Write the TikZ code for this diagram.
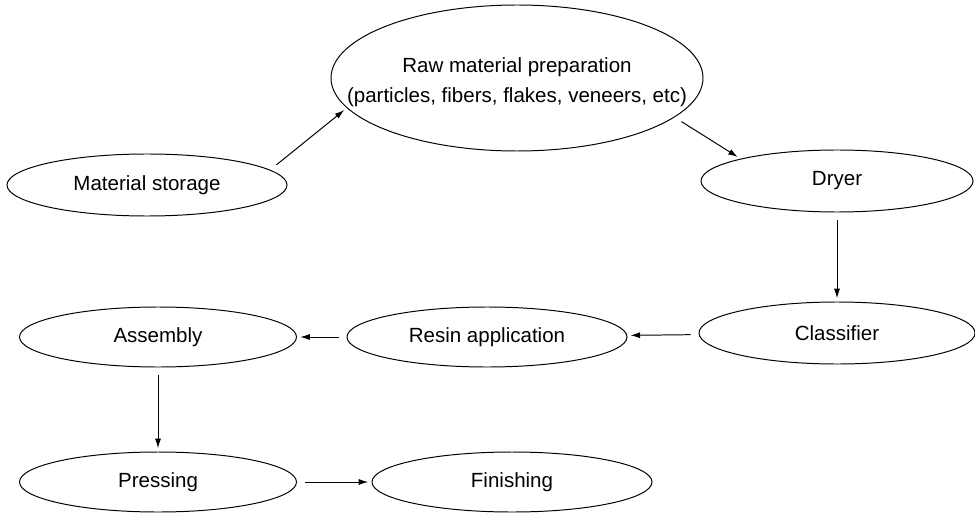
\documentclass[tikz,border=0pt]{standalone}
\usepackage{fontspec}
\setmainfont{Liberation Sans}
\usetikzlibrary{arrows.meta, positioning, shapes.geometric}

\begin{document}
\begin{tikzpicture}[
    proc/.style={draw, ellipse, line width=0.7pt, inner sep=0pt, minimum width=7cm, minimum height=1.55cm, font=\fontsize{14.6}{21.3}\selectfont},
    flow/.style={-{Latex[length=0.24cm, width=0.15cm]}, line width=0.7pt, shorten <=0.2cm, shorten >=0.08cm}]

    \useasboundingbox[fill=white] (0,0) rectangle (24.375,-12.825);

    % Top row
    \node[proc] (storage) at (3.675,-4.625) {Material storage};
    \node[proc, minimum width=9.3cm, minimum height=3.65cm] (prep) at (12.925,-1.95) {};
    \node[align=center, inner sep=0pt, font=\fontsize{14.6}{21.3}\selectfont] (preptext) at ([yshift=-0.1cm]prep.center) {Raw material preparation\\(particles, fibers, flakes, veneers, etc)};
    \node[proc, minimum width=6.8cm] (dryer) at (20.925,-4.525) {Dryer};

    % Middle row
    \node[proc, minimum width=6.9cm] (classifier) at (20.925,-8.325) {Classifier};
    \node[proc, minimum height=1.5cm] (resin) at (12.175,-8.425) {Resin application};
    \node[proc, minimum width=6.925cm, minimum height=1.5cm] (assembly) at (3.95,-8.425) {Assembly};

    % Bottom row
    \node[proc, minimum width=6.925cm, minimum height=1.5cm] (pressing) at (3.95,-12.05) {Pressing};
    \node[proc, minimum height=1.5cm] (finishing) at (12.8,-12.05) {Finishing};

    % Process flow
    \draw[flow] (storage.7) -- (prep.190);
    \draw[flow] (prep.-14) -- (dryer.167);
    \draw[flow] (dryer) -- (classifier);
    \draw[flow] (classifier) -- (resin);
    \draw[flow] (resin) -- (assembly);
    \draw[flow] (assembly) -- (pressing);
    \draw[flow] (pressing) -- (finishing);
\end{tikzpicture}
\end{document}
